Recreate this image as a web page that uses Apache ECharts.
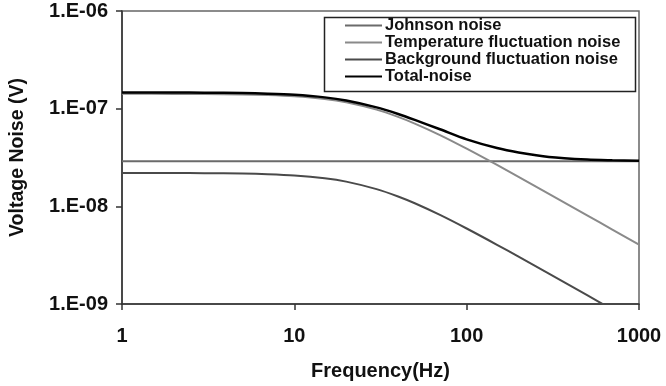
<!DOCTYPE html>
<html>
<head>
<meta charset="utf-8">
<script src="https://cdn.jsdelivr.net/npm/echarts@6/dist/echarts.min.js"></script>
<style>
html,body{margin:0;padding:0;background:#fff;}
#chart{width:666px;height:386px;}
</style>
</head>
<body>
<div id="chart"></div>
<script>
// Frequency samples (Hz)
var freq = [1, 2, 3, 5, 7, 10, 15, 20, 30, 40, 50, 70, 100, 150, 200, 300, 500, 700, 1000];
// Values (V)
var johnson = [2.9e-8, 2.9e-8, 2.9e-8, 2.9e-8, 2.9e-8, 2.9e-8, 2.9e-8, 2.9e-8, 2.9e-8, 2.9e-8, 2.9e-8, 2.9e-8, 2.9e-8, 2.9e-8, 2.9e-8, 2.9e-8, 2.9e-8, 2.9e-8, 2.9e-8];
var temperature = [1.419e-7, 1.417e-7, 1.412e-7, 1.399e-7, 1.379e-7, 1.340e-7, 1.257e-7, 1.162e-7, 9.78e-8, 8.24e-8, 7.03e-8, 5.36e-8, 3.89e-8, 2.65e-8, 2.00e-8, 1.343e-8, 8.08e-9, 5.78e-9, 4.05e-9];
var background = [2.199e-8, 2.194e-8, 2.187e-8, 2.166e-8, 2.134e-8, 2.072e-8, 1.939e-8, 1.790e-8, 1.501e-8, 1.262e-8, 1.075e-8, 8.17e-9, 5.93e-9, 4.04e-9, 3.05e-9, 2.044e-9, 1.23e-9, 8.8e-10, 6.2e-10];
var total = [1.465e-7, 1.463e-7, 1.458e-7, 1.445e-7, 1.425e-7, 1.387e-7, 1.305e-7, 1.211e-7, 1.031e-7, 8.83e-8, 7.68e-8, 6.15e-8, 4.85e-8, 3.95e-8, 3.56e-8, 3.20e-8, 3.01e-8, 2.96e-8, 2.93e-8];
var seriesNames = ['Johnson noise', 'Temperature fluctuation noise', 'Background fluctuation noise', 'Total-noise'];
var xTicks = ['1', '10', '100', '1000'];

function pairs(vals){ return freq.map(function(f,i){ return [f, vals[i]]; }); }

var FONT = '"Liberation Sans", Arial, sans-serif';
var colors = ['#6b6b6b', '#8a8a8a', '#4a4a4a', '#000000'];
var widths = [2, 2, 2, 2.5];
var dataSets = [johnson, temperature, background, total];

var chart = echarts.init(document.getElementById('chart'), null, {renderer:'canvas'});
chart.setOption({
  animation: false,
  backgroundColor: '#ffffff',
  grid: {left: 115, right: 27, top: 11, bottom: 78, show: true, borderColor: '#666', borderWidth: 1.5, containLabel: false},
  xAxis: {
    type: 'log', logBase: 10, min: 1, max: 1000,
    name: 'Frequency(Hz)', nameLocation: 'middle', nameGap: 57,
    nameTextStyle: {fontFamily: FONT, fontWeight: 'bold', fontSize: 20, color: '#111'},
    axisLine: {show: true, lineStyle: {color: '#333', width: 1.5}},
    axisTick: {show: true, inside: false, length: 6, lineStyle: {color: '#333', width: 1.5}},
    minorTick: {show: false},
    splitLine: {show: false},
    axisLabel: {margin: 22, fontFamily: FONT, fontWeight: 'bold', fontSize: 20, color: '#111',
      formatter: function(v){ var e = Math.round(Math.log10(v)); return xTicks[e]; }}
  },
  yAxis: {
    type: 'log', logBase: 10, min: 1e-9, max: 1e-6,
    name: 'Voltage Noise (V)', nameLocation: 'middle', nameGap: 94, nameRotate: 90,
    nameTextStyle: {fontFamily: FONT, fontWeight: 'bold', fontSize: 19.5, color: '#111'},
    axisLine: {show: true, lineStyle: {color: '#333', width: 1.5}},
    axisTick: {show: true, inside: false, length: 6, lineStyle: {color: '#333', width: 1.5}},
    minorTick: {show: false},
    splitLine: {show: false},
    axisLabel: {margin: 14, fontFamily: FONT, fontWeight: 'bold', fontSize: 20, color: '#111',
      formatter: function(v){ var e = Math.round(Math.log10(v)); var s = String(-e); if (s.length < 2) s = '0' + s; return '1.E-' + s; }}
  },
  legend: {
    show: true, orient: 'vertical', left: 345, top: 17,
    padding: 0, itemGap: 0, itemWidth: 37, itemHeight: 2,
    icon: 'rect',
    textStyle: {fontFamily: FONT, fontWeight: 'bold', fontSize: 16.5, color: '#111', lineHeight: 17, padding: [0,0,0,-2]},
    data: seriesNames
  },
  graphic: [{
    type: 'rect', left: 322, top: 15, z: 10,
    shape: {width: 311, height: 74},
    style: {fill: 'none', stroke: '#222', lineWidth: 1.5}
  }],
  series: seriesNames.map(function(n, i){
    return {
      name: n, type: 'line', data: pairs(dataSets[i]),
      smooth: 0.3, showSymbol: false, symbol: 'none', clip: true,
      itemStyle: {color: colors[i]},
      lineStyle: {color: colors[i], width: widths[i]},
      z: i === 3 ? 3 : 2
    };
  })
});
</script>
</body>
</html>
